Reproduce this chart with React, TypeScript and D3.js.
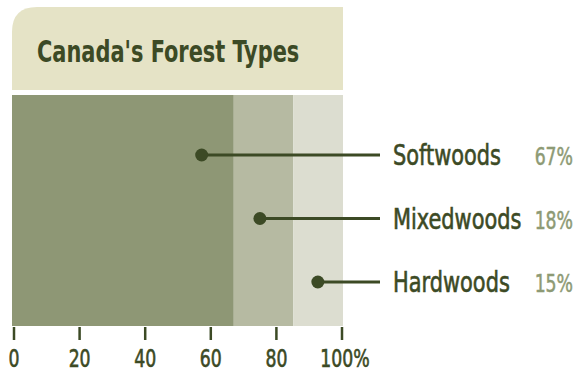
import React from "react";
import * as d3 from "d3";

const categories = ["Softwoods", "Mixedwoods", "Hardwoods"];
const shares = [67, 18, 15];
const markerAt = [57.3, 74.9, 92.4];
const tickValues = [0, 20, 40, 60, 80, 100];
const title = "Canada's Forest Types";

const W = 579;
const H = 374;
const barColors = ["#8e9775", "#b6baa2", "#dcddd0"];
const dark = "#3c4a25";
const pctColor = "#8d9a74";
const headerColor = "#e5e3c6";
const font = "'DejaVu Sans Condensed', 'DejaVu Sans', sans-serif";

function T({ x, y, sx, anchor = "start", size, weight = "normal", fill, sw = 0, children }: any) {
  return (
    <g transform={`translate(${x},${y}) scale(${sx},1)`}>
      <text
        textAnchor={anchor}
        fontFamily={font}
        fontStretch="condensed"
        fontSize={size}
        fontWeight={weight}
        fill={fill}
        stroke={sw ? fill : "none"}
        strokeWidth={sw}
      >
        {children}
      </text>
    </g>
  );
}

export default function App() {
  const x = d3.scaleLinear().domain([0, 100]).range([12, 343]);
  const xt = d3.scaleLinear().domain([0, 100]).range([14, 342]);
  const y = d3.scalePoint<string>().domain(categories).range([155, 282]);
  const barTop = 95;
  const barBottom = 326;

  const stacks: { start: number; end: number }[] = [];
  let acc = 0;
  shares.forEach((s) => {
    stacks.push({ start: acc, end: acc + s });
    acc += s;
  });

  const r = 25;
  const hx = 12, hy = 7, hw = 331, hh = 83;
  const headerPath = `M${hx},${hy + hh} L${hx},${hy + r} Q${hx},${hy} ${hx + r},${hy} L${hx + hw},${hy} L${hx + hw},${hy + hh} Z`;

  return (
    <svg width={W} height={H} style={{ position: "absolute", left: 0, top: 0 }}>
      <rect width={W} height={H} fill="#fff" />
      <path d={headerPath} fill={headerColor} />
      <T x={37} y={62} sx={0.75} size={31} weight="bold" fill={dark}>
        {title}
      </T>
      {stacks.map((s, i) => (
        <rect
          key={i}
          x={x(s.start)}
          y={barTop}
          width={x(s.end) - x(s.start)}
          height={barBottom - barTop}
          fill={barColors[i]}
        />
      ))}
      {categories.map((c, i) => (
        <g key={c}>
          <line x1={x(markerAt[i])} x2={380} y1={y(c)} y2={y(c)} stroke={dark} strokeWidth={3} />
          <circle cx={x(markerAt[i])} cy={y(c)} r={6.5} fill={dark} />
          <T x={393} y={(y(c) as number) + 10} sx={0.83} size={28} fill={dark} sw={0.6}>
            {c}
          </T>
          <T x={573} y={(y(c) as number) + 10} sx={0.8} anchor="end" size={24} fill={pctColor} sw={0.5}>
            {shares[i]}%
          </T>
        </g>
      ))}
      {tickValues.map((t, i) => (
        <g key={t}>
          <line x1={xt(t)} x2={xt(t)} y1={327} y2={340} stroke={dark} strokeWidth={2.5} />
          <T
            x={xt(t) + (i === tickValues.length - 1 ? 3 : 0)}
            y={367}
            sx={0.8}
            anchor="middle"
            size={24}
            fill={dark}
            sw={0.6}
          >
            {i === tickValues.length - 1 ? `${t}%` : t}
          </T>
        </g>
      ))}
    </svg>
  );
}
